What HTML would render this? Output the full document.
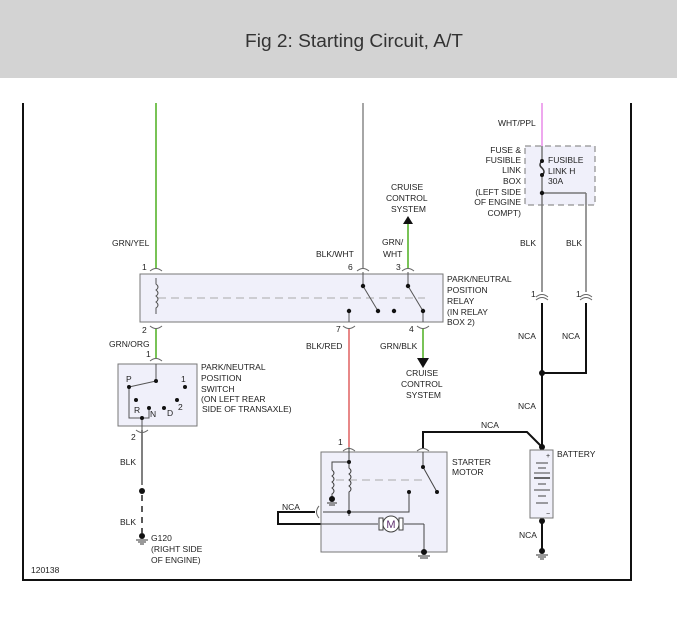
<!DOCTYPE html><html><head><style>body{margin:0;width:677px;height:614px;overflow:hidden;background:#fff}
svg text{font-family:"Liberation Sans",sans-serif;font-size:8.5px;fill:#222}</style></head><body>
<svg width="677" height="614" viewBox="0 0 677 614">
<rect x="0" y="0" width="677" height="78" fill="#d3d3d3"/>
<text x="354" y="47" text-anchor="middle" textLength="218" lengthAdjust="spacingAndGlyphs" style="font-size:18px;fill:#333">Fig 2: Starting Circuit, A/T</text>
<polyline points="23,103 23,580 631,580 631,103" fill="none" stroke="#111" stroke-width="2"/>
<g fill="none" stroke-width="1.5">
<line x1="156" y1="103" x2="156" y2="268" stroke="#4caf1f"/>
<line x1="156" y1="328" x2="156" y2="358" stroke="#4caf1f"/>
<line x1="363" y1="103" x2="363" y2="268" stroke="#888"/>
<line x1="408" y1="222" x2="408" y2="268" stroke="#4caf1f"/>
<line x1="423" y1="328" x2="423" y2="358" stroke="#4caf1f"/>
<line x1="349" y1="328" x2="349" y2="447" stroke="#e06060"/>
<line x1="142" y1="430" x2="142" y2="485" stroke="#555"/>
<line x1="142" y1="495" x2="142" y2="533" stroke="#222" stroke-dasharray="6,5"/>
<line x1="542" y1="103" x2="542" y2="146" stroke="#e88ae8"/>
<line x1="542" y1="146" x2="542" y2="292" stroke="#777"/>
<line x1="586" y1="193" x2="586" y2="292" stroke="#777"/>
<line x1="542" y1="193" x2="586" y2="193" stroke="#777"/>
<line x1="542" y1="303" x2="542" y2="550" stroke="#111" stroke-width="2"/>
<polyline points="586,303 586,373 542,373" stroke="#111" stroke-width="2"/>
<polyline points="423,448 423,432 527,432 542,447" stroke="#111" stroke-width="2"/>
<polyline points="315,512 278,512 278,524 321,524" stroke="#111" stroke-width="2"/>
</g>
<rect x="140" y="274" width="303" height="48" fill="#f0f0fa" stroke="#777"/>
<line x1="158" y1="298" x2="425" y2="298" stroke="#aaa" stroke-dasharray="8,5"/>
<path d="M156 278v6q4 3 0 6q4 3 0 6q4 3 0 6q4 3 0 6v6" stroke="#555" fill="none"/>
<g stroke="#555" fill="none"><line x1="363" y1="272" x2="363" y2="286"/><line x1="363" y1="286" x2="378" y2="311"/><line x1="408" y1="272" x2="408" y2="286"/><line x1="408" y1="286" x2="423" y2="311"/><line x1="349" y1="311" x2="349" y2="322"/><line x1="423" y1="311" x2="423" y2="322"/></g>
<g fill="#111"><circle cx="363" cy="286" r="2.2"/><circle cx="378" cy="311" r="2.2"/><circle cx="394" cy="311" r="2.2"/><circle cx="349" cy="311" r="2.2"/><circle cx="408" cy="286" r="2.2"/><circle cx="423" cy="311" r="2.2"/></g>
<g stroke="#666" fill="none">
<path d="M150 271q6-5 12 0M150 326q6 5 12 0M357 271q6-5 12 0M402 271q6-5 12 0M343 326q6 5 12 0M417 326q6 5 12 0M136 430q6 5 12 0M343 451q6-5 12 0M417 451q6-5 12 0M536 297q6-5 12 0M536 300q6-5 12 0M580 297q6-5 12 0M580 300q6-5 12 0M150 361q6-5 12 0M319 506q-5 6 0 12"/>
</g>
<polygon points="403,224 408,216 413,224" fill="#111"/>
<polygon points="417,358 429,358 423,368" fill="#111"/>
<rect x="118" y="364" width="79" height="62" fill="#f0f0fa" stroke="#777"/>
<g stroke="#555" fill="none"><line x1="156" y1="364" x2="156" y2="381"/><line x1="156" y1="381" x2="129" y2="387"/><polyline points="129,387 129,418 142,418 149,418 149,408"/><line x1="142" y1="418" x2="142" y2="430"/></g>
<g fill="#111"><circle cx="156" cy="381" r="2"/><circle cx="129" cy="387" r="2"/><circle cx="185" cy="387" r="2"/><circle cx="136" cy="400" r="2"/><circle cx="149" cy="408" r="2"/><circle cx="164" cy="408" r="2"/><circle cx="177" cy="400" r="2"/><circle cx="142" cy="418" r="2"/><circle cx="142" cy="491" r="3"/></g>
<circle cx="142" cy="536" r="3" fill="#111"/><g stroke="#333"><line x1="136" y1="540" x2="148" y2="540"/><line x1="138" y1="542" x2="146" y2="542"/><line x1="140" y1="544" x2="144" y2="544"/></g>
<rect x="525" y="146" width="70" height="59" fill="#f0f0fa" stroke="#777" stroke-dasharray="6,4"/>
<path d="M542 161q-4 4 0 7q4 4 0 7" stroke="#333" fill="none" stroke-width="1.5"/>
<line x1="542" y1="146" x2="542" y2="161" stroke="#777" stroke-width="1.5"/><line x1="542" y1="175" x2="542" y2="205" stroke="#777" stroke-width="1.5"/>
<line x1="542" y1="193" x2="586" y2="193" stroke="#777" stroke-width="1.5"/><line x1="586" y1="193" x2="586" y2="205" stroke="#777" stroke-width="1.5"/>
<g fill="#111"><circle cx="542" cy="161" r="2"/><circle cx="542" cy="175" r="2"/><circle cx="542" cy="193" r="2.2"/><circle cx="542" cy="373" r="3"/><circle cx="542" cy="447" r="3"/><circle cx="542" cy="521" r="3"/></g>
<rect x="530" y="450" width="23" height="68" fill="#f0f0fa" stroke="#777"/>
<g stroke="#444"><line x1="536" y1="463" x2="548" y2="463"/><line x1="538" y1="468" x2="546" y2="468"/><line x1="534" y1="473" x2="550" y2="473"/><line x1="534" y1="478" x2="550" y2="478" stroke-width="1.6"/><line x1="538" y1="484" x2="546" y2="484"/><line x1="534" y1="490" x2="550" y2="490"/><line x1="538" y1="496" x2="546" y2="496"/><line x1="536" y1="503" x2="548" y2="503"/></g>
<text x="546" y="458" style="font-size:7px">+</text><text x="546" y="516" style="font-size:7px">−</text>
<circle cx="542" cy="551" r="3" fill="#111"/><g stroke="#333"><line x1="536" y1="555" x2="548" y2="555"/><line x1="538" y1="557" x2="546" y2="557"/><line x1="540" y1="559" x2="544" y2="559"/></g>
<rect x="321" y="452" width="126" height="100" fill="#f0f0fa" stroke="#777"/>
<line x1="336" y1="480" x2="425" y2="480" stroke="#aaa" stroke-dasharray="8,5"/>
<g stroke="#444" fill="none">
<line x1="349" y1="447" x2="349" y2="462"/>
<polyline points="349,462 332,462 332,470"/>
<path d="M332 470q4 3 0 6q4 3 0 6q4 3 0 6q4 3 0 6v4"/>
<path d="M349 462v6q4 3 0 6q4 3 0 6q4 3 0 6q4 3 0 6v24"/>
<polyline points="323,512 409,512 409,492"/>
<line x1="321" y1="524" x2="378" y2="524"/><line x1="404" y1="524" x2="424" y2="524"/><line x1="424" y1="524" x2="424" y2="552"/>
<line x1="423" y1="452" x2="423" y2="467"/><line x1="423" y1="467" x2="437" y2="492"/>
</g>
<g fill="#111"><circle cx="349" cy="462" r="2"/><circle cx="349" cy="512" r="2"/><circle cx="332" cy="499" r="3"/><circle cx="409" cy="492" r="2"/><circle cx="423" cy="467" r="2"/><circle cx="437" cy="492" r="2"/><circle cx="424" cy="552" r="3"/></g>
<g stroke="#333"><line x1="327" y1="503" x2="337" y2="503"/><line x1="329" y1="505" x2="335" y2="505"/><line x1="418" y1="556" x2="430" y2="556"/><line x1="420" y1="558" x2="428" y2="558"/></g>
<rect x="379" y="518" width="4" height="12" fill="#fff" stroke="#444"/><rect x="399" y="518" width="4" height="12" fill="#fff" stroke="#444"/>
<circle cx="391" cy="524" r="8" fill="#fff" stroke="#444"/><text x="391" y="528" text-anchor="middle" style="font-size:11px;fill:#603070">M</text>
<text x="112" y="246">GRN/YEL</text><text x="142" y="270">1</text><text x="142" y="333">2</text>
<text x="109" y="347">GRN/ORG</text><text x="146" y="357">1</text>
<text x="201" y="370">PARK/NEUTRAL</text><text x="201" y="381">POSITION</text><text x="201" y="392">SWITCH</text><text x="201" y="402">(ON LEFT REAR</text><text x="202" y="412">SIDE OF TRANSAXLE)</text>
<text x="126" y="382">P</text><text x="181" y="382">1</text><text x="134" y="413">R</text><text x="150" y="417">N</text><text x="167" y="416">D</text><text x="178" y="410">2</text>
<text x="131" y="440">2</text><text x="120" y="465">BLK</text><text x="120" y="525">BLK</text>
<text x="151" y="541">G120</text><text x="151" y="552">(RIGHT SIDE</text><text x="151" y="563">OF ENGINE)</text>
<text x="31" y="573">120138</text>
<text x="316" y="257">BLK/WHT</text><text x="348" y="270">6</text>
<text x="382" y="245">GRN/</text><text x="383" y="257">WHT</text><text x="396" y="270">3</text>
<text x="391" y="190">CRUISE</text><text x="386" y="201">CONTROL</text><text x="391" y="212">SYSTEM</text>
<text x="447" y="282">PARK/NEUTRAL</text><text x="447" y="293">POSITION</text><text x="447" y="304">RELAY</text><text x="447" y="315">(IN RELAY</text><text x="447" y="325">BOX 2)</text>
<text x="336" y="332">7</text><text x="409" y="332">4</text>
<text x="306" y="349">BLK/RED</text><text x="380" y="349">GRN/BLK</text>
<text x="406" y="376">CRUISE</text><text x="401" y="387">CONTROL</text><text x="406" y="398">SYSTEM</text>
<text x="338" y="445">1</text><text x="452" y="465">STARTER</text><text x="452" y="475">MOTOR</text>
<text x="481" y="428">NCA</text><text x="282" y="510">NCA</text>
<text x="557" y="457">BATTERY</text><text x="519" y="538">NCA</text>
<text x="498" y="126">WHT/PPL</text>
<text x="521" y="153" text-anchor="end">FUSE &amp;</text><text x="521" y="163" text-anchor="end">FUSIBLE</text><text x="521" y="173" text-anchor="end">LINK</text><text x="521" y="184" text-anchor="end">BOX</text><text x="521" y="195" text-anchor="end">(LEFT SIDE</text><text x="521" y="205" text-anchor="end">OF ENGINE</text><text x="521" y="216" text-anchor="end">COMPT)</text>
<text x="548" y="163">FUSIBLE</text><text x="548" y="174">LINK H</text><text x="548" y="184">30A</text>
<text x="520" y="246">BLK</text><text x="566" y="246">BLK</text>
<text x="531" y="297">1</text><text x="576" y="297">1</text>
<text x="518" y="339">NCA</text><text x="562" y="339">NCA</text><text x="518" y="409">NCA</text>
</svg></body></html>
